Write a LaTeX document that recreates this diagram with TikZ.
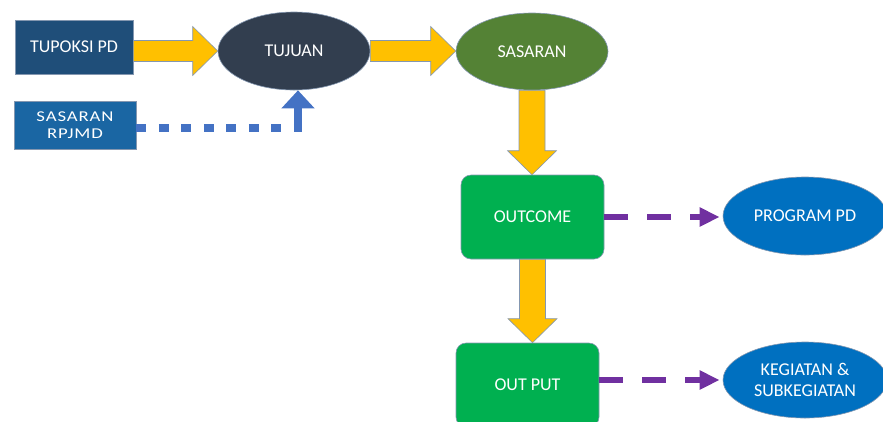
\documentclass[tikz,border=0pt]{standalone}
\usepackage{fontspec}
\setmainfont{Carlito}
\usetikzlibrary{shapes.geometric,arrows.meta,calc}
\definecolor{cTup}{HTML}{1F4E79}
\definecolor{cRpj}{HTML}{1A66A3}
\definecolor{cTuj}{HTML}{323E4F}
\definecolor{cSas}{HTML}{548235}
\definecolor{cGreen}{HTML}{00B050}
\definecolor{cBlue}{HTML}{0070C0}
\definecolor{cYel}{HTML}{FFC000}
\definecolor{cEdge}{HTML}{8497B0}
\definecolor{cDot}{HTML}{4472C4}
\definecolor{cPurp}{HTML}{7030A0}
\newfontfamily\rpjfont[FakeStretch=1.25,LetterSpace=6]{Carlito}
\tikzset{
  lbl/.style={text=white, font=\fontsize{18bp}{21bp}\selectfont, align=center, inner sep=0pt, draw=cEdge, line width=0.6bp},
  sqbox/.style={lbl, rectangle},
  rbox/.style={lbl, rectangle, rounded corners=10bp, fill=cGreen},
  ell/.style={lbl, ellipse},
  yarrow/.style={fill=cYel, draw=cEdge, line width=0.6bp, line join=miter},
  bluedot/.style={draw=cDot, line width=8bp,
    dash pattern=on 10bp off 12.5bp on 10bp off 12.5bp on 10bp off 12.5bp on 10bp off 12.5bp on 10bp off 12.5bp on 10bp off 12.5bp on 10bp off 12.5bp on 30bp off 0bp,
    -{Triangle[width=32bp,length=18bp]}},
  purpdash/.style={draw=cPurp, line width=6bp, dash pattern=on 24bp off 19bp, -{Triangle[width=18bp,length=20bp]}, shorten >=3bp}
}
\newcommand\rblock[2]{%
  \filldraw[yarrow] ($(#1)+(0,-10.5)$) -- ($(#2)+(-25,-10.5)$) -- ($(#2)+(-25,-24.5)$) -- (#2)
    -- ($(#2)+(-25,24.5)$) -- ($(#2)+(-25,10.5)$) -- ($(#1)+(0,10.5)$) -- cycle;}
\newcommand\dblock[2]{%
  \filldraw[yarrow] ($(#1)+(-13,0)$) -- ($(#2)+(-13,-24)$) -- ($(#2)+(-24.5,-24)$) -- (#2)
    -- ($(#2)+(24.5,-24)$) -- ($(#2)+(13,-24)$) -- ($(#1)+(13,0)$) -- cycle;}
\begin{document}
\begin{tikzpicture}[x=1bp,y=-1bp]
\useasboundingbox (0,0) rectangle (883,421);
\node[sqbox, fill=cTup, minimum width=118bp, minimum height=54bp] (tup) at (74,47) {TUPOKSI PD};
\node[sqbox, fill=cRpj, minimum width=122bp, minimum height=48bp,
  font=\rpjfont\fontsize{15bp}{16.5bp}\selectfont] (rpj) at (75,125) {SASARAN\\RPJMD};
\node[ell, fill=cTuj, minimum width=152bp, minimum height=78bp] (tuj) at (294,51) {TUJUAN};
\node[ell, fill=cSas, minimum width=152bp, minimum height=77bp] (sas) at (532,51.5) {SASARAN};
\node[rbox, minimum width=143bp, minimum height=84bp] (outc) at (532.5,217) {OUTCOME};
\node[rbox, minimum width=143bp, minimum height=84bp] (outp) at (527.5,385) {OUT PUT};
\node[ell, fill=cBlue, minimum width=164bp, minimum height=78bp] (prog) at (805,216) {PROGRAM PD};
\node[ell, fill=cBlue, minimum width=164bp, minimum height=76bp] (keg) at (805,380) {KEGIATAN \&\\SUBKEGIATAN};
% block arrows
\coordinate (a1s) at (tup.east |- tuj.west);
\rblock{a1s}{tuj.west}
\coordinate (a2e) at (sas.west |- tuj.east);
\rblock{tuj.east}{a2e}
\coordinate (a3e) at (sas.south |- outc.north);
\dblock{sas.south}{a3e}
\coordinate (a4e) at (outc.south |- outp.north);
\dblock{outc.south}{a4e}
% dotted connector
\coordinate (d0) at ($(rpj.east)+(0,3)$);
\coordinate (d1) at ($(tuj.south)+(4,0)$);
\draw[bluedot] (d0) -| (d1);
% purple dashed connectors
\draw[purpdash] (outc.east) -- (outc.east -| prog.west);
\draw[purpdash] (outp.east |- keg.west) -- (keg.west);
\end{tikzpicture}
\end{document}
